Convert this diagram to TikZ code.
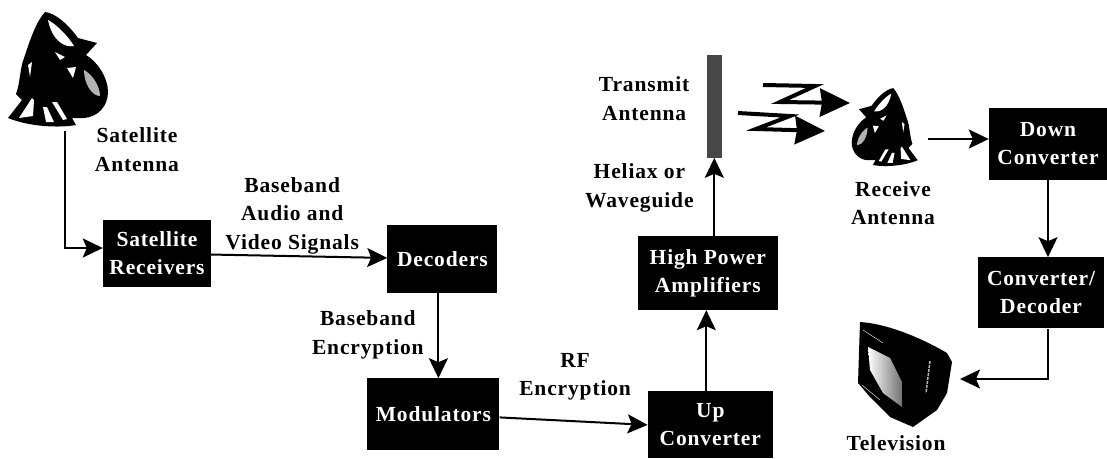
\documentclass[tikz,border=0pt]{standalone}
\usepackage{fontspec}
\setmainfont[LetterSpace=4]{Liberation Serif}
\usetikzlibrary{arrows.meta, positioning, calc}

\begin{document}
\begin{tikzpicture}[
    x=1pt, y=-1pt,
    node distance=8pt,
    box/.style={
        rectangle,
        fill=black,
        text=white,
        align=center,
        inner sep=0pt,
        font=\fontsize{21.5}{28}\selectfont\bfseries
    },
    tag/.style={
        align=center,
        inner sep=0pt,
        font=\fontsize{21.5}{28.5}\selectfont\bfseries
    },
    arrow/.style={-{Stealth[length=20pt, width=19pt, inset=4pt]}, line width=2pt},
    zig/.style={-{Stealth[length=30pt, width=28pt, inset=2pt]}, line width=4pt, line join=miter},
    dish/.pic={
        \fill (45,12) .. controls (55,13) and (68,24) .. (78,38)
            -- (97,43) -- (86,55)
            .. controls (98,62) and (108,78) .. (108,92)
            .. controls (108,106) and (98,117) .. (84,118)
            -- (72,118) -- (76,125)
            .. controls (60,128) and (30,127) .. (8,118)
            -- (22,100) -- (16,94)
            .. controls (20,84) and (20,68) .. (24,58)
            .. controls (30,40) and (36,22) .. (45,12) -- cycle;
        \fill[white] (48,20) .. controls (56,24) and (68,36) .. (74,46)
            .. controls (64,48) and (52,40) .. (48,20) -- cycle;
        \fill[white!70!black] (84,70) .. controls (92,74) and (100,86) .. (100,96)
            .. controls (92,96) and (84,84) .. (84,70) -- cycle;
        \fill[white] (55,52) -- (65,57) -- (60,60) -- cycle;
        \fill[white] (67,68) -- (76,67) -- (73,78) -- cycle;
        \fill[white] (28,65) -- (32,62) -- (30,77) -- cycle;
        \fill[white] (32,98) -- (34,100) -- (33,116) -- (19,118) -- cycle;
        \fill[white] (43,107) -- (46,122) -- (54,122) -- (47,107) -- cycle;
        \fill[white] (52,102) -- (63,120) -- (67,119) -- (57,102) -- cycle;
    }
]

\useasboundingbox (0,0) rectangle (1107,458);

\node[box, minimum width=108pt, minimum height=67pt] (receivers) at (157,253.5) {Satellite\\Receivers};

\node[box, minimum width=110pt, minimum height=68pt, right=176pt of receivers, yshift=-5.5pt] (decoders) {Decoders};

\node[box, minimum width=132pt, minimum height=72pt, below=85pt of decoders, xshift=-9pt] (modulators) {Modulators};

\node[box, minimum width=125pt, minimum height=67pt, right=148pt of modulators, yshift=-10.5pt] (upconv) {Up\\Converter};

\node[box, minimum width=140pt, minimum height=74pt, above=81pt of upconv, xshift=-2.5pt] (hpa) {High Power\\Amplifiers};

\node[minimum width=15pt, minimum height=103pt, inner sep=0pt, fill=black!72, above=78pt of hpa, xshift=6.5pt] (txbar) {};

\node[box, minimum width=118pt, minimum height=72pt] (downconv) at (1048,144) {Down\\Converter};

\node[box, minimum width=126pt, minimum height=71pt, below=77pt of downconv, xshift=-7pt] (decoder) {Converter/\\Decoder};

\pic at (0,0) {dish};
\pic[xscale=-0.66, yscale=0.68] at (923,80) {dish};

\fill (860,322) .. controls (890,324) and (925,340) .. (947,353)
    -- (952,362) -- (947,393) -- (937,410) -- (913,427) -- (890,417)
    -- (870,397) -- (858,383) -- cycle;
\fill[left color=white, right color=black!55] (868,347) -- (890,358) -- (902,382) -- (902,407)
    -- (883,393) -- (870,370) -- cycle;
\draw[white, thin] (863,330) -- (883,343);
\draw[white, thin] (862,385) -- (880,400);
\draw[white!70!black, line width=1.5pt, dash pattern=on 3pt off 1pt] (930,361) -- (926,393);

\coordinate (satfoot) at (65,131);
\coordinate (rxfoot) at (928,139);
\coordinate (tvside) at (960,379);
\coordinate (zigastart) at (763,85);
\coordinate (zigbstart) at (738,113);

\draw[arrow] (satfoot) |- ([yshift=5.5pt]receivers.west);
\draw[arrow] (receivers) -- (decoders);
\draw[arrow] ([xshift=-4pt]decoders.south) -- ([xshift=-4pt]decoders.south |- modulators.north);
\draw[arrow] ([yshift=-3pt]modulators.east) -- (upconv.west);
\draw[arrow] ([xshift=-4pt]upconv.north) -- ([xshift=-4pt]upconv.north |- hpa.south);
\draw[arrow] (txbar.south |- hpa.north) -- (txbar.south);
\draw[arrow] (rxfoot) -- (rxfoot -| downconv.west);
\draw[arrow] (downconv) -- (downconv |- decoder.north);
\draw[arrow] ([xshift=7pt]decoder.south) |- (tvside);

\draw[zig] (zigastart) -- ++(52,1) -- ++(-35,16) -- ++(70,1);
\draw[zig] (zigbstart) -- ++(52,3) -- ++(-34,13) -- ++(69,2);

\node[tag] (satlabel) at (137,149.5) {Satellite\\Antenna};
\node[tag, above=2pt of $(receivers.east)!.5!(decoders.west)$, xshift=-7pt] (signals) {Baseband\\Audio and\\Video Signals};
\node[tag, left=14pt of $(decoders.south)!.5!(modulators.north)$, yshift=1pt] (bbenc) {Baseband\\Encryption};
\node[tag, above=19pt of $(modulators.east)!.5!(upconv.west)$, xshift=1.5pt] (rfenc) {RF\\Encryption};
\node[tag, left=17pt of txbar, yshift=7.5pt] (txlabel) {Transmit\\Antenna};
\node[tag, left=20.5pt of txbar.south, yshift=-30pt] (helabel) {Heliax or\\Waveguide};
\node[tag] (rxlabel) at (893,203) {Receive\\Antenna};
\node[tag] (tvlabel) at (896,443) {Television};

\end{tikzpicture}
\end{document}
